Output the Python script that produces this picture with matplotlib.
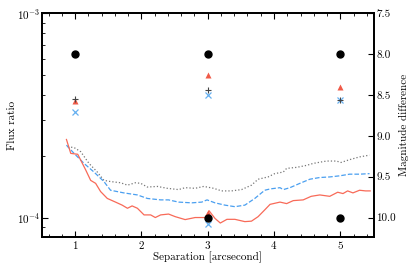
import matplotlib
matplotlib.use('Agg')
import matplotlib.pyplot as plt
import numpy as np
from matplotlib.ticker import MultipleLocator, LogLocator, NullFormatter

plt.rcParams['font.family'] = 'serif'
plt.rcParams['font.serif'] = ['cmr10']
plt.rcParams['mathtext.fontset'] = 'cm'
plt.rcParams['axes.formatter.use_mathtext'] = True
plt.rcParams['axes.unicode_minus'] = False

# contrast curves (separation in arcsec, flux ratio)
sep_red = [0.87, 0.935, 1.04, 1.16, 1.235, 1.31, 1.385, 1.486, 1.61, 1.71, 1.79, 1.86,
           1.94, 2.04, 2.14, 2.21, 2.29, 2.41, 2.51, 2.66, 2.81, 2.96, 3.02, 3.11, 3.19,
           3.29, 3.41, 3.56, 3.66, 3.76, 3.86, 3.94, 4.09, 4.19, 4.29, 4.44, 4.56, 4.69,
           4.84, 4.96, 5.04, 5.11, 5.19, 5.29, 5.38, 5.45]
flux_red = [2.41e-4, 2.06e-4, 2.04e-4, 1.71e-4, 1.52e-4, 1.47e-4, 1.34e-4, 1.24e-4,
            1.19e-4, 1.15e-4, 1.11e-4, 1.14e-4, 1.11e-4, 1.03e-4, 1.03e-4, 1.0e-4,
            1.03e-4, 1.04e-4, 1.01e-4, 9.77e-5, 1.0e-4, 1.0e-4, 1.08e-4, 9.9e-5, 9.4e-5,
            9.8e-5, 9.8e-5, 9.55e-5, 9.6e-5, 1.01e-4, 1.09e-4, 1.16e-4, 1.19e-4, 1.17e-4,
            1.21e-4, 1.22e-4, 1.27e-4, 1.29e-4, 1.27e-4, 1.33e-4, 1.31e-4, 1.35e-4,
            1.32e-4, 1.36e-4, 1.35e-4, 1.35e-4]

sep_blue = [0.87, 0.985, 1.135, 1.285, 1.435, 1.535, 1.735, 1.94, 2.09, 2.29, 2.41,
            2.56, 2.76, 2.91, 2.99, 3.11, 3.26, 3.41, 3.56, 3.71, 3.86, 3.94, 4.09, 4.14,
            4.24, 4.39, 4.54, 4.69, 4.84, 4.99, 5.14, 5.29, 5.44]
flux_blue = [2.26e-4, 2.06e-4, 1.84e-4, 1.67e-4, 1.5e-4, 1.36e-4, 1.32e-4, 1.29e-4,
             1.24e-4, 1.22e-4, 1.22e-4, 1.19e-4, 1.18e-4, 1.19e-4, 1.22e-4, 1.18e-4,
             1.15e-4, 1.13e-4, 1.15e-4, 1.24e-4, 1.36e-4, 1.38e-4, 1.4e-4, 1.37e-4,
             1.4e-4, 1.47e-4, 1.54e-4, 1.57e-4, 1.58e-4, 1.6e-4, 1.63e-4, 1.63e-4, 1.64e-4]

sep_gray = [0.89, 0.985, 1.085, 1.21, 1.335, 1.435, 1.535, 1.686, 1.79, 1.91, 1.99,
            2.09, 2.24, 2.39, 2.56, 2.66, 2.81, 2.94, 3.09, 3.21, 3.36, 3.51, 3.66, 3.76,
            3.91, 4.01, 4.14, 4.19, 4.34, 4.49, 4.59, 4.79, 4.94, 5.01, 5.14, 5.29, 5.44]
flux_gray = [2.22e-4, 2.2e-4, 2.1e-4, 1.84e-4, 1.67e-4, 1.52e-4, 1.5e-4, 1.48e-4,
             1.44e-4, 1.48e-4, 1.47e-4, 1.41e-4, 1.42e-4, 1.39e-4, 1.37e-4, 1.4e-4,
             1.39e-4, 1.42e-4, 1.39e-4, 1.35e-4, 1.35e-4, 1.37e-4, 1.44e-4, 1.54e-4,
             1.58e-4, 1.64e-4, 1.67e-4, 1.74e-4, 1.76e-4, 1.8e-4, 1.84e-4, 1.89e-4,
             1.89e-4, 1.86e-4, 1.92e-4, 1.98e-4, 2.02e-4]

# injected / recovered points
sep_circle = [1, 3, 5, 3, 5]
flux_circle = [6.31e-4, 6.31e-4, 6.31e-4, 1.0e-4, 1.0e-4]
sep_plus = [1, 3, 5]
flux_plus = [3.81e-4, 4.2e-4, 3.77e-4]
sep_tri = [1, 3, 5, 3]
flux_tri = [3.72e-4, 4.99e-4, 4.37e-4, 1.05e-4]
sep_x = [1, 3, 5, 3]
flux_x = [3.3e-4, 3.96e-4, 3.77e-4, 9.25e-5]

fig, ax = plt.subplots(figsize=(4.15, 2.64), dpi=100)
fig.subplots_adjust(left=0.101, right=0.9, top=0.95, bottom=0.101)

ax.plot(sep_gray, flux_gray, color='#777777', ls=':', lw=0.9)
ax.plot(sep_blue, flux_blue, color='#4a9ff0', ls='--', lw=0.9)
ax.plot(sep_red, flux_red, color='#f86a58', ls='-', lw=0.9)

ax.plot(sep_tri, flux_tri, '^', color='#f05a48', ms=4, mec='none')
ax.plot(sep_x, flux_x, 'x', color='#66b0f0', ms=5, mew=0.9)
ax.plot(sep_plus, flux_plus, '+', color='#444444', ms=5, mew=0.8)
ax.plot(sep_circle, flux_circle, 'o', color='black', ms=5, zorder=5)

ax.set_yscale('log')
ax.set_xlim(0.5, 5.5)
ax.set_ylim(8e-5, 1e-3)
ax.xaxis.set_major_locator(MultipleLocator(1))
ax.xaxis.set_minor_locator(MultipleLocator(0.2))
ax.yaxis.set_minor_locator(LogLocator(base=10, subs=np.arange(2, 10)))
ax.yaxis.set_minor_formatter(NullFormatter())
ax.tick_params(which='both', direction='in', top=True, labelsize=8, pad=1.5)
ax.tick_params(which='major', length=4)
ax.tick_params(which='minor', length=2)
ax.set_xlabel('Separation [arcsecond]', fontsize=8, labelpad=0)
ax.set_ylabel('Flux ratio', fontsize=8, labelpad=0)

ax2 = ax.twinx()
lo, hi = ax.get_ylim()
ax2.set_ylim(-2.5 * np.log10(lo), -2.5 * np.log10(hi))
ax2.yaxis.set_major_locator(MultipleLocator(0.5))
ax2.yaxis.set_major_formatter(plt.FormatStrFormatter('%.1f'))
ax2.tick_params(direction='in', labelsize=8, length=4, pad=2)
ax2.set_ylabel('Magnitude difference', fontsize=8, labelpad=2)

for a in (ax, ax2):
    for s in a.spines.values():
        s.set_linewidth(1.3)

fig.savefig('out.png', dpi=100)
